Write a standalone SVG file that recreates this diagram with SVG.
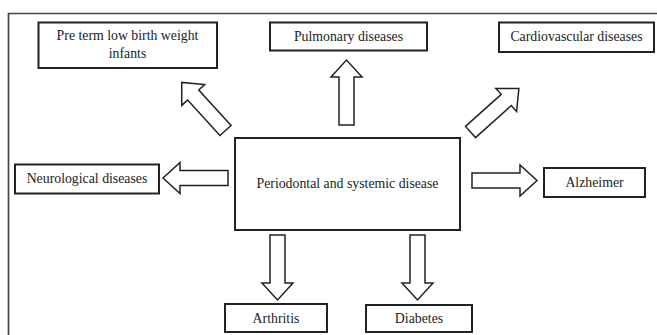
<svg xmlns="http://www.w3.org/2000/svg" width="657" height="335" viewBox="0 0 657 335">
<style>
.box{fill:#fff;stroke:#222;stroke-width:2}
.frame{fill:none;stroke:#444;stroke-width:1.7}
.arr{fill:#fff;stroke:#222;stroke-width:1.5;stroke-linejoin:miter}
.t{font-family:'Liberation Serif','Times New Roman',Tinos,'DejaVu Serif',serif;font-size:13.8px;fill:#222;text-anchor:middle}
</style>
<defs>
<path id="arrow" class="arr" d="M0,-7.5 L48,-7.5 L48,-15.5 L65,0 L48,15.5 L48,7.5 L0,7.5 Z"/>
</defs>
<rect width="657" height="335" fill="#fff"/>
<path class="frame" d="M8.5,335 L8.5,13.5 L657,13.5"/>
<g id="connectors">
<use href="#arrow" transform="translate(346.5,125) rotate(-90)"/>
<use href="#arrow" transform="translate(225.5,130.5) rotate(-132.3)"/>
<use href="#arrow" transform="translate(470.5,132) rotate(-41.9)"/>
<use href="#arrow" transform="translate(228,178) rotate(180)"/>
<use href="#arrow" transform="translate(472,180.5)"/>
<use href="#arrow" transform="translate(277.5,235) rotate(90)"/>
<use href="#arrow" transform="translate(417.5,235) rotate(90)"/>
</g>
<g id="center">
<rect class="box" x="235" y="138" width="225" height="92"/>
<text class="t" x="347.5" y="188">Periodontal and systemic disease</text>
</g>
<g id="preterm">
<rect class="box" x="38.5" y="22.5" width="178.5" height="45.5"/>
<text class="t" x="127.5" y="40">Pre term low birth weight</text>
<text class="t" x="127.5" y="58">infants</text>
</g>
<g id="pulmonary">
<rect class="box" x="270" y="22.5" width="157" height="28"/>
<text class="t" x="348.5" y="40.5">Pulmonary diseases</text>
</g>
<g id="cardiovascular">
<rect class="box" x="499" y="22.5" width="155" height="29.5"/>
<text class="t" x="576.5" y="41">Cardiovascular diseases</text>
</g>
<g id="neurological">
<rect class="box" x="15" y="164.5" width="144" height="29"/>
<text class="t" x="87" y="183">Neurological diseases</text>
</g>
<g id="alzheimer">
<rect class="box" x="544" y="168" width="101" height="29"/>
<text class="t" x="594.5" y="186.5">Alzheimer</text>
</g>
<g id="arthritis">
<rect class="box" x="225" y="304" width="102" height="28"/>
<text class="t" x="276" y="322.5">Arthritis</text>
</g>
<g id="diabetes">
<rect class="box" x="366" y="305" width="106" height="27"/>
<text class="t" x="419" y="323">Diabetes</text>
</g>
</svg>
